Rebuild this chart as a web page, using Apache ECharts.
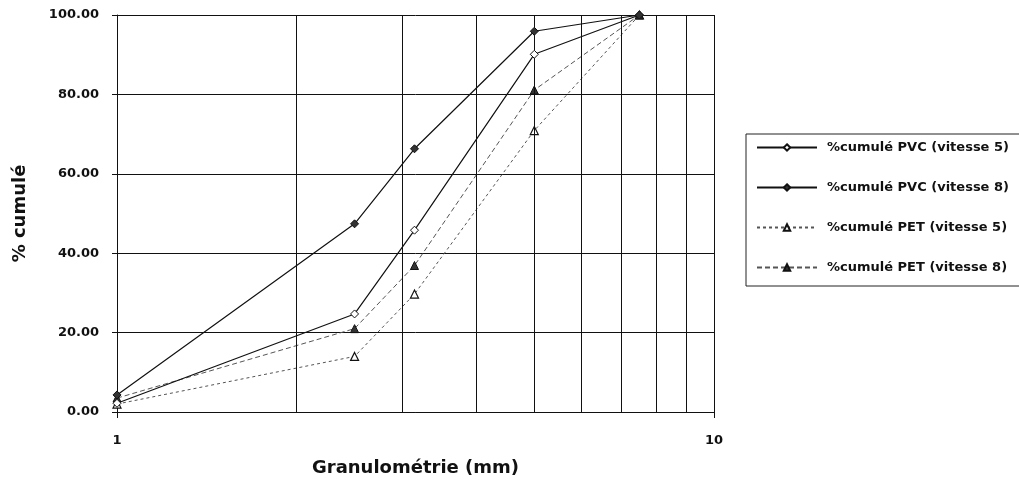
<!DOCTYPE html>
<html>
<head>
<meta charset="utf-8">
<script src="https://cdn.jsdelivr.net/npm/echarts@6/dist/echarts.min.js"></script>
<style>
html,body{margin:0;padding:0;background:#fff;}
#c{width:1019px;height:485px;}
</style>
</head>
<body>
<div id="c"></div>
<script>
var sizes = [1, 2.5, 3.15, 5, 7.5];
var pvc5 = [2.2, 24.7, 45.8, 90.1, 100];
var pvc8 = [4.3, 47.4, 66.3, 95.9, 100];
var pet5 = [2.0, 14.0, 29.7, 70.9, 100];
var pet8 = [3.5, 21.0, 36.9, 81.1, 100];
var minorX = [2, 3, 4, 5, 6, 7, 8, 9];
var seriesNames = ['%cumulé PVC (vitesse 5)', '%cumulé PVC (vitesse 8)', '%cumulé PET (vitesse 5)', '%cumulé PET (vitesse 8)'];
var xTitle = 'Granulométrie (mm)';
var yTitle = '% cumulé';

function pairs(ys){ return sizes.map(function(x,i){ return [x, ys[i]]; }); }
var FONT = '"DejaVu Sans", Verdana, sans-serif';

var chart = echarts.init(document.getElementById('c'), null, {renderer:'canvas'});
chart.setOption({
  animation: false,
  backgroundColor: '#fff',
  grid: {left: 117, top: 15, right: 305, bottom: 73, containLabel: false},
  legend: {
    orient: 'vertical',
    left: 746, top: 134,
    padding: [7, 60, 12, 10],
    borderColor: '#222', borderWidth: 1,
    itemWidth: 60, itemHeight: 8, itemGap: 27,
    textStyle: {fontFamily: FONT, fontWeight: 'bold', fontSize: 13, color: '#111', padding: [0,0,0,5]},
    data: seriesNames
  },
  xAxis: {
    type: 'log', logBase: 10, min: 1, max: 10,
    name: xTitle, nameLocation: 'middle', nameGap: 47,
    nameTextStyle: {fontFamily: FONT, fontWeight: 'bold', fontSize: 18, color: '#111'},
    axisLine: {show: true, lineStyle: {color: '#111', width: 1}},
    axisTick: {show: true, inside: false, length: 6, lineStyle: {color: '#111'}},
    axisLabel: {margin: 22, fontFamily: FONT, fontWeight: 'bold', fontSize: 13, color: '#111'},
    splitLine: {show: true, lineStyle: {color: '#111', width: 1}},
    minorTick: {show: false}, minorSplitLine: {show: false}
  },
  yAxis: {
    type: 'value', min: 0, max: 100, interval: 20,
    name: yTitle, nameLocation: 'middle', nameGap: 88, nameRotate: 90,
    nameTextStyle: {fontFamily: FONT, fontWeight: 'bold', fontSize: 18, color: '#111'},
    axisLine: {show: true, lineStyle: {color: '#111', width: 1}},
    axisTick: {show: true, inside: false, length: 5, lineStyle: {color: '#111'}},
    axisLabel: {margin: 18, fontFamily: FONT, fontWeight: 'bold', fontSize: 13, color: '#111',
      formatter: function(v){ return v.toFixed(2); }},
    splitLine: {show: true, lineStyle: {color: '#111', width: 1}}
  },
  series: [
    {name: seriesNames[0], type: 'line', data: pairs(pvc5), symbol: 'diamond', symbolSize: 8,
     itemStyle: {color: '#fff', borderColor: '#111', borderWidth: 1},
     lineStyle: {color: '#111', width: 1.2, type: 'solid'}, z: 5,
     markLine: {silent: true, symbol: 'none', label: {show: false},
       lineStyle: {color: '#111', width: 1, type: 'solid'},
       data: minorX.map(function(v){ return {xAxis: v}; })}},
    {name: seriesNames[1], type: 'line', data: pairs(pvc8), symbol: 'diamond', symbolSize: 8,
     itemStyle: {color: '#333', borderColor: '#111', borderWidth: 1},
     lineStyle: {color: '#111', width: 1.2, type: 'solid'}, z: 5},
    {name: seriesNames[2], type: 'line', data: pairs(pet5), symbol: 'triangle', symbolSize: 8,
     itemStyle: {color: '#fff', borderColor: '#111', borderWidth: 1.2},
     lineStyle: {color: '#555', width: 1, type: [3, 3]}, z: 4},
    {name: seriesNames[3], type: 'line', data: pairs(pet8), symbol: 'triangle', symbolSize: 8,
     itemStyle: {color: '#333', borderColor: '#111', borderWidth: 1},
     lineStyle: {color: '#555', width: 1, type: [5, 3]}, z: 4}
  ]
});
</script>
</body>
</html>
